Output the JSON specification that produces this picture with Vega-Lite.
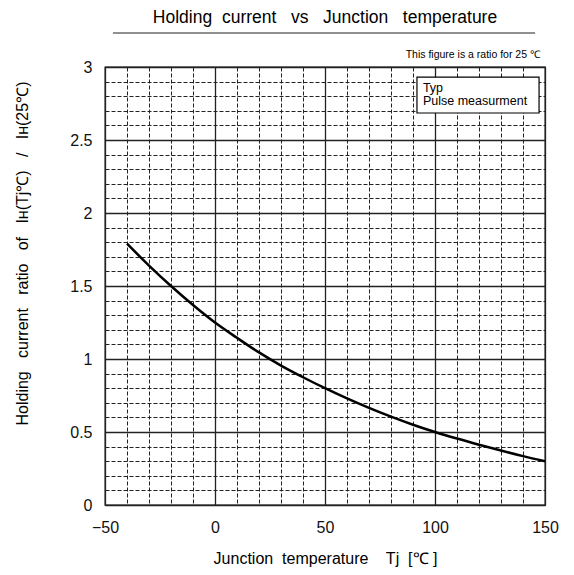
{
  "$schema": "https://vega.github.io/schema/vega-lite/v6.json",
  "width": 440,
  "height": 438,
  "autosize": {"type": "none"},
  "padding": {"left": 105, "top": 67, "right": 29, "bottom": 70},
  "background": "white",
  "config": {
    "view": {"stroke": "black", "strokeWidth": 1.3},
    "font": "Liberation Sans",
    "axisX": {
      "grid": true,
      "gridColor": "#222",
      "gridWidth": {"condition": {"test": "datum.value % 50 === 0", "value": 1.3}, "value": 1},
      "gridDash": {"condition": {"test": "datum.value % 50 === 0", "value": []}, "value": [4, 2]},
      "ticks": false,
      "domain": false,
      "labelExpr": "datum.value % 50 === 0 ? (datum.value < 0 ? '\u2212' + abs(datum.value) : '' + datum.value) : ''",
      "labelOverlap": false,
      "labelFlush": false,
      "labelBound": false,
      "labelFont": "Liberation Sans",
      "labelFontSize": 16,
      "labelColor": "#111",
      "labelPadding": 14,
      "titleFont": "Liberation Sans",
      "titleFontSize": 16,
      "titleFontWeight": "normal",
      "titleColor": "black",
      "titlePadding": 15
    },
    "axisY": {
      "grid": true,
      "gridColor": "#222",
      "gridWidth": {"condition": {"test": "abs(datum.value*2 - round(datum.value*2)) < 0.001", "value": 1.3}, "value": 1},
      "gridDash": {"condition": {"test": "abs(datum.value*2 - round(datum.value*2)) < 0.001", "value": []}, "value": [4, 2]},
      "ticks": false,
      "domain": false,
      "labelExpr": "abs(datum.value*2 - round(datum.value*2)) < 0.001 ? format(datum.value, '~g') : ''",
      "labelOverlap": false,
      "labelBound": false,
      "labelFlush": false,
      "labelFont": "Liberation Sans",
      "labelFontSize": 16,
      "labelColor": "#111",
      "labelPadding": 13,
      "titleFont": "Liberation Sans",
      "titleFontSize": 16,
      "titleFontWeight": "normal",
      "titleColor": "black",
      "titleX": -83,
      "titleY": 186,
      "titleAngle": -90,
      "titleAlign": "center",
      "titleBaseline": "middle"
    }
  },
  "title": {
    "text": "Holding \u00a0current \u00a0\u00a0vs \u00a0\u00a0Junction \u00a0\u00a0temperature",
    "fontSize": 17.5,
    "fontWeight": "normal",
    "font": "Liberation Sans",
    "color": "black",
    "anchor": "middle",
    "frame": "group",
    "baseline": "alphabetic",
    "offset": -8
  },
  "data": {
    "values": [
      {"tj": -40, "ratio": 1.79},
      {"tj": -30, "ratio": 1.64},
      {"tj": -20, "ratio": 1.5},
      {"tj": -10, "ratio": 1.37},
      {"tj": 0, "ratio": 1.25},
      {"tj": 10, "ratio": 1.145},
      {"tj": 20, "ratio": 1.045},
      {"tj": 30, "ratio": 0.955},
      {"tj": 40, "ratio": 0.875},
      {"tj": 50, "ratio": 0.8},
      {"tj": 60, "ratio": 0.73},
      {"tj": 70, "ratio": 0.665},
      {"tj": 80, "ratio": 0.605},
      {"tj": 90, "ratio": 0.55},
      {"tj": 100, "ratio": 0.5},
      {"tj": 110, "ratio": 0.455},
      {"tj": 120, "ratio": 0.413},
      {"tj": 130, "ratio": 0.373},
      {"tj": 140, "ratio": 0.335},
      {"tj": 150, "ratio": 0.3}
    ]
  },
  "layer": [
    {
      "mark": {"type": "line", "color": "black", "strokeWidth": 2.5, "interpolate": "monotone"},
      "encoding": {
        "x": {
          "field": "tj", "type": "quantitative",
          "scale": {"domain": [-50, 150], "nice": false, "zero": false},
          "axis": {
            "values": [-50,-40,-30,-20,-10,0,10,20,30,40,50,60,70,80,90,100,110,120,130,140,150],
            "title": "Junction \u00a0temperature \u00a0\u00a0 Tj \u00a0[\u2103 ]"
          }
        },
        "y": {
          "field": "ratio", "type": "quantitative",
          "scale": {"domain": [0, 3], "nice": false, "zero": false},
          "axis": {
            "values": [0,0.1,0.2,0.3,0.4,0.5,0.6,0.7,0.8,0.9,1,1.1,1.2,1.3,1.4,1.5,1.6,1.7,1.8,1.9,2,2.1,2.2,2.3,2.4,2.5,2.6,2.7,2.8,2.9,3],
            "title": "Holding \u00a0\u00a0current \u00a0\u00a0ratio \u00a0\u00a0of \u00a0\u00a0I\u029c(Tj\u2103) \u00a0\u00a0/ \u00a0\u00a0I\u029c(25\u2103)"
          }
        }
      }
    },
    {
      "data": {"values": [{}]},
      "mark": {"type": "rule", "color": "#222", "strokeWidth": 1.2, "clip": false},
      "encoding": {
        "x": {"datum": -46.4, "type": "quantitative", "axis": {"values": [-50,-40,-30,-20,-10,0,10,20,30,40,50,60,70,80,90,100,110,120,130,140,150], "title": "Junction \u00a0temperature \u00a0\u00a0 Tj \u00a0[\u2103 ]"}},
        "x2": {"datum": 145.5},
        "y": {"datum": 3.233, "type": "quantitative", "axis": {"values": [0,0.1,0.2,0.3,0.4,0.5,0.6,0.7,0.8,0.9,1,1.1,1.2,1.3,1.4,1.5,1.6,1.7,1.8,1.9,2,2.1,2.2,2.3,2.4,2.5,2.6,2.7,2.8,2.9,3], "title": "Holding \u00a0\u00a0current \u00a0\u00a0ratio \u00a0\u00a0of \u00a0\u00a0I\u029c(Tj\u2103) \u00a0\u00a0/ \u00a0\u00a0I\u029c(25\u2103)"}}
      }
    },
    {
      "data": {"values": [{}]},
      "mark": {"type": "text", "text": "This figure is a ratio for 25 \u2103", "align": "right", "baseline": "alphabetic", "fontSize": 10.5, "font": "Liberation Sans", "color": "black", "clip": false},
      "encoding": {
        "x": {"datum": 147.7, "type": "quantitative", "axis": {"values": [-50,-40,-30,-20,-10,0,10,20,30,40,50,60,70,80,90,100,110,120,130,140,150], "title": "Junction \u00a0temperature \u00a0\u00a0 Tj \u00a0[\u2103 ]"}},
        "y": {"datum": 3.06, "type": "quantitative", "axis": {"values": [0,0.1,0.2,0.3,0.4,0.5,0.6,0.7,0.8,0.9,1,1.1,1.2,1.3,1.4,1.5,1.6,1.7,1.8,1.9,2,2.1,2.2,2.3,2.4,2.5,2.6,2.7,2.8,2.9,3], "title": "Holding \u00a0\u00a0current \u00a0\u00a0ratio \u00a0\u00a0of \u00a0\u00a0I\u029c(Tj\u2103) \u00a0\u00a0/ \u00a0\u00a0I\u029c(25\u2103)"}}
      }
    },
    {
      "data": {"values": [{}]},
      "mark": {"type": "rect", "fill": "white", "stroke": "black", "strokeWidth": 1.2},
      "encoding": {
        "x": {"datum": 91.8, "type": "quantitative", "axis": {"values": [-50,-40,-30,-20,-10,0,10,20,30,40,50,60,70,80,90,100,110,120,130,140,150], "title": "Junction \u00a0temperature \u00a0\u00a0 Tj \u00a0[\u2103 ]"}},
        "x2": {"datum": 147.3},
        "y": {"datum": 2.93, "type": "quantitative", "axis": {"values": [0,0.1,0.2,0.3,0.4,0.5,0.6,0.7,0.8,0.9,1,1.1,1.2,1.3,1.4,1.5,1.6,1.7,1.8,1.9,2,2.1,2.2,2.3,2.4,2.5,2.6,2.7,2.8,2.9,3], "title": "Holding \u00a0\u00a0current \u00a0\u00a0ratio \u00a0\u00a0of \u00a0\u00a0I\u029c(Tj\u2103) \u00a0\u00a0/ \u00a0\u00a0I\u029c(25\u2103)"}},
        "y2": {"datum": 2.685}
      }
    },
    {
      "data": {"values": [{"label": "Typ", "row": 2.83}, {"label": "Pulse measurment", "row": 2.74}]},
      "mark": {"type": "text", "align": "left", "baseline": "alphabetic", "fontSize": 12.5, "font": "Liberation Sans", "color": "black"},
      "encoding": {
        "text": {"field": "label"},
        "x": {"datum": 94.5, "type": "quantitative", "axis": {"values": [-50,-40,-30,-20,-10,0,10,20,30,40,50,60,70,80,90,100,110,120,130,140,150], "title": "Junction \u00a0temperature \u00a0\u00a0 Tj \u00a0[\u2103 ]"}},
        "y": {"field": "row", "type": "quantitative", "axis": {"values": [0,0.1,0.2,0.3,0.4,0.5,0.6,0.7,0.8,0.9,1,1.1,1.2,1.3,1.4,1.5,1.6,1.7,1.8,1.9,2,2.1,2.2,2.3,2.4,2.5,2.6,2.7,2.8,2.9,3], "title": "Holding \u00a0\u00a0current \u00a0\u00a0ratio \u00a0\u00a0of \u00a0\u00a0I\u029c(Tj\u2103) \u00a0\u00a0/ \u00a0\u00a0I\u029c(25\u2103)"}}
      }
    }
  ]
}
